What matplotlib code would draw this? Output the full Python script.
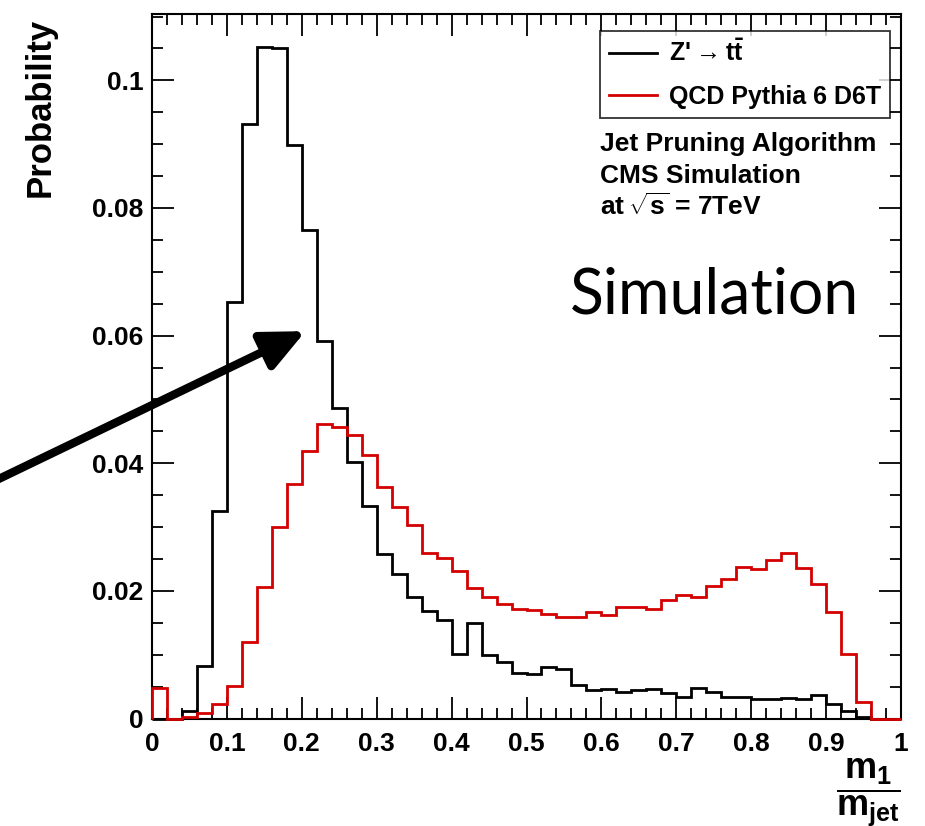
import matplotlib
matplotlib.use("Agg")
import matplotlib.pyplot as plt
import numpy as np
from matplotlib.ticker import MultipleLocator, FuncFormatter
from matplotlib.patches import ArrowStyle

plt.rcParams.update({
    'font.family': ['Liberation Sans', 'DejaVu Sans'],
    'font.weight': 'bold',
    'mathtext.fontset': 'custom',
    'mathtext.rm': 'Liberation Sans:bold',
    'mathtext.bf': 'Liberation Sans:bold',
    'mathtext.default': 'rm',
})

# 50 bins of width 0.02 in m1/mjet
edges = np.linspace(0.0, 1.0, 51)

zprime = [0.0, 0.0, 0.0012, 0.0082, 0.0325, 0.0653, 0.0932, 0.1052, 0.1050, 0.0898,
          0.0765, 0.0592, 0.0486, 0.0402, 0.0333, 0.0257, 0.0227, 0.0190, 0.0168, 0.0154,
          0.0101, 0.0149, 0.0099, 0.0088, 0.0072, 0.0069, 0.0080, 0.0077, 0.0052, 0.0044,
          0.0047, 0.0042, 0.0044, 0.0046, 0.0040, 0.0034, 0.0048, 0.0041, 0.0033, 0.0033,
          0.0031, 0.0031, 0.0032, 0.0030, 0.0037, 0.0023, 0.0011, 0.0003, 0.0, 0.0]

qcd = [0.0048, 0.0, 0.0003, 0.0008, 0.0023, 0.0051, 0.0120, 0.0206, 0.0300, 0.0368,
       0.0419, 0.0461, 0.0457, 0.0444, 0.0413, 0.0362, 0.0331, 0.0303, 0.0260, 0.0251,
       0.0231, 0.0205, 0.0190, 0.0180, 0.0171, 0.0170, 0.0164, 0.0159, 0.0159, 0.0167,
       0.0162, 0.0174, 0.0174, 0.0171, 0.0186, 0.0194, 0.0190, 0.0208, 0.0219, 0.0237,
       0.0234, 0.0249, 0.0259, 0.0236, 0.0211, 0.0167, 0.0101, 0.0026, 0.0, 0.0]

W, H = 925, 826
fig = plt.figure(figsize=(W / 100, H / 100), dpi=100)
ax = fig.add_axes([152 / W, 1 - 718.5 / H, (901 - 152) / W, (718.5 - 14) / H])

ax.stairs(zprime, edges, color='black', lw=2, zorder=3, clip_on=False,
          label=r"Z'$\rightarrow$t$\bar{\rm t}$")
ax.stairs(qcd, edges, color='#d40000', lw=2, zorder=3.1, clip_on=False,
          label='QCD Pythia 6 D6T')

ax.set_xlim(0, 1)
ax.set_ylim(0, 0.1104)
for s in ax.spines.values():
    s.set_linewidth(1.5)

ax.xaxis.set_major_locator(MultipleLocator(0.1))
ax.xaxis.set_minor_locator(MultipleLocator(0.02))
ax.yaxis.set_major_locator(MultipleLocator(0.02))
ax.yaxis.set_minor_locator(MultipleLocator(0.005))
fmt = FuncFormatter(lambda v, p: '%g' % round(v, 3))
ax.xaxis.set_major_formatter(fmt)
ax.yaxis.set_major_formatter(fmt)
ax.tick_params(which='both', direction='in', top=True, right=True, width=1.3)
ax.tick_params(which='major', length=16, labelsize=19)
ax.tick_params(which='minor', length=8)
ax.tick_params(axis='x', which='major', pad=10)
ax.tick_params(axis='y', which='major', pad=6)

ax.set_ylabel('Probability', fontsize=25, fontweight='bold')
ax.yaxis.label.set_verticalalignment('center')
ax.yaxis.set_label_coords((40 - 152) / 749, 1 - (107 - 14) / 704.5)

fig.text(868 / W, 1 - 792 / H, r'$\dfrac{m_1}{m_{jet}}$', fontsize=26,
         ha='center', va='center')

leg = ax.legend(loc='upper left', bbox_to_anchor=((600 - 152) / 749, 1 - (31 - 14) / 704.5),
                frameon=True, fancybox=False, edgecolor='black',
                handlelength=1.95, handletextpad=0.45, borderpad=0.35,
                labelspacing=0.75, borderaxespad=0.0, prop={'weight': 'bold', 'size': 18})
leg.get_frame().set_linewidth(1.3)

fig.text(600 / W, 1 - 151 / H, 'Jet Pruning Algorithm', fontsize=19, fontweight='bold', va='baseline')
fig.text(600 / W, 1 - 183 / H, 'CMS Simulation', fontsize=19, fontweight='bold', va='baseline')
fig.text(600 / W, 1 - 215 / H, r'at$\,\sqrt{s}$ = 7TeV', fontsize=19, fontweight='bold', va='baseline')

fig.text(570 / W, 1 - 313 / H, 'Simulation', fontsize=45, family='Lato',
         fontweight='normal', va='baseline')

ax.annotate('', xy=(0.205, 0.0607), xycoords='data',
            xytext=(-20 / W, 1 - 488 / H), textcoords='figure fraction',
            arrowprops=dict(arrowstyle=ArrowStyle('-|>', head_length=0.65, head_width=0.3),
                            lw=6, color='black', mutation_scale=40,
                            shrinkA=0, shrinkB=0),
            annotation_clip=False)

fig.savefig('out.png', dpi=100)
